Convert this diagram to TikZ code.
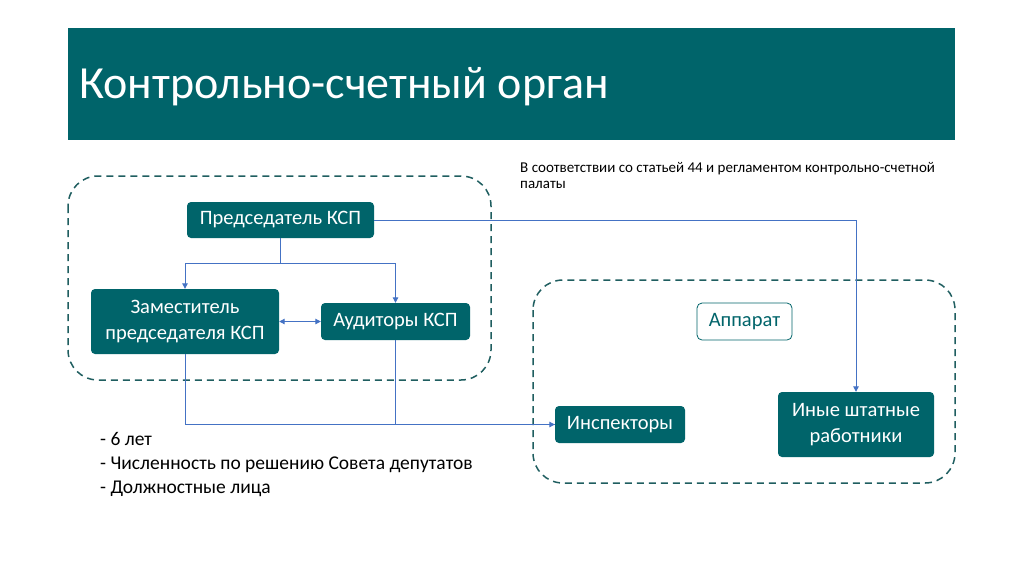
\documentclass[tikz,border=0pt]{standalone}
\usepackage{fontspec}
\setmainfont{Carlito}
\usetikzlibrary{arrows.meta}
\definecolor{teal1}{HTML}{00646A}
\definecolor{dashc}{HTML}{1F5E60}
\definecolor{linec}{HTML}{4472C4}
\tikzset{
  box/.style={draw=none, fill=teal1, text=white, rounded corners=4pt, align=center, inner sep=0pt, font=\fontsize{20.5}{25.5}\selectfont},
  obox/.style={draw=teal1, line width=0.8pt, fill=white, text=teal1, rounded corners=5pt, align=center, inner sep=0pt, font=\fontsize{20.5}{25.5}\selectfont},
  dashbox/.style={draw=dashc, line width=1.5pt, dash pattern=on 7pt off 5pt, rounded corners=30pt},
  conn/.style={draw=linec, line width=1pt},
  arr/.style={conn, -{Triangle[length=5.5pt,width=5.5pt]}},
  arrboth/.style={conn, {Triangle[length=5.5pt,width=5.5pt]}-{Triangle[length=5.5pt,width=5.5pt]}},
  plain/.style={text=black, anchor=west, inner sep=0pt}
}
\begin{document}
\begin{tikzpicture}[x=1pt,y=-1pt]
\useasboundingbox (0,0) rectangle (1024,574);
\fill[white] (0,0) rectangle (1024,574);
% title bar
\fill[teal1] (68,28) rectangle (955,140);
\node[plain, text=white, font=\fontsize{46}{56}\selectfont] (title) at (79,87) {Контрольно-счетный орган};
% dashed containers
\draw[dashbox] (68,176) rectangle (491,380);
\draw[dashbox] (533,280) rectangle (955,483);
% note
\node[plain, anchor=north west, align=left, font=\fontsize{15}{16.5}\selectfont] (note) at (520,162) {В соответствии со статьей 44 и регламентом контрольно-счетной\\палаты};
% nodes
\node[box, minimum width=187pt, minimum height=36pt] (pred) at (280.5,220) {Председатель КСП};
\node[box, minimum width=188pt, minimum height=65pt] (zam) at (185,321.5) {Заместитель\\председателя КСП};
\node[box, minimum width=149pt, minimum height=37pt] (aud) at (395.5,321.5) {Аудиторы КСП};
\node[obox, minimum width=95pt, minimum height=37pt] (app) at (744.5,321.5) {Аппарат};
\node[box, minimum width=130pt, minimum height=37pt] (insp) at (620,424.5) {Инспекторы};
\node[box, minimum width=156pt, minimum height=65pt] (inye) at (856,424.5) {Иные штатные\\работники};
% connectors
\draw[conn] (pred.south) -- ++(0,25) coordinate (j);
\draw[arr] (j) -| (zam.north);
\draw[arr] (j) -| (aud.north);
\draw[arrboth] (zam.east) -- (aud.west);
\draw[arr] (pred.east) -| (inye.north);
\draw[conn] (aud.south) |- (insp.west);
\draw[arr] (zam.south) |- (insp.west);
% bullets
\node[plain, anchor=north west, align=left, font=\fontsize{19.5}{24}\selectfont] (bul) at (100,432) {- 6 лет\\- Численность по решению Совета депутатов\\- Должностные лица};
\end{tikzpicture}
\end{document}
